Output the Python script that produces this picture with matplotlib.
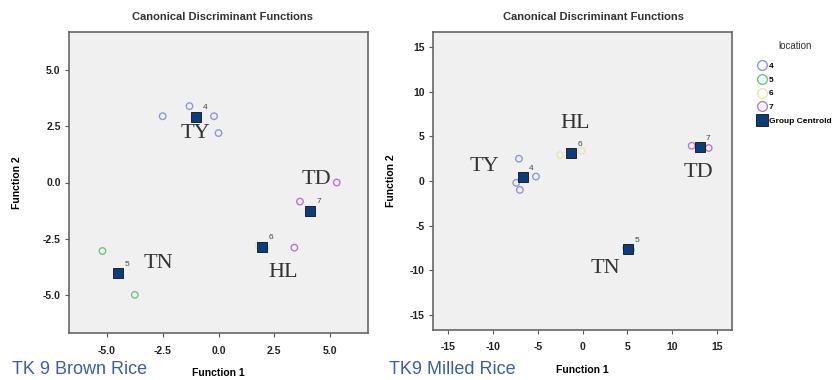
import matplotlib
matplotlib.use("Agg")
import matplotlib.pyplot as plt
from matplotlib.lines import Line2D

plt.rcParams['font.family'] = ['Liberation Sans', 'DejaVu Sans']

W, H = 838, 380

groups = ['4', '5', '6', '7']
colors = {'4': '#8e98d4', '5': '#66cc70', '6': '#e9e4b4', '7': '#b87ac6'}

# TK 9 brown rice: discriminant scores per location
brown_pts = {
    '4': ([-2.5, -1.3, -0.2, 0.0], [2.95, 3.4, 2.95, 2.2]),
    '5': ([-5.2, -3.75], [-3.05, -5.0]),
    '6': ([1.8, 2.1], [-2.8, -2.9]),
    '7': ([5.3, 3.65, 3.4], [0.0, -0.85, -2.9]),
}
brown_cent = {'4': (-1.0, 2.9), '5': (-4.5, -4.05), '6': (1.95, -2.85), '7': (4.1, -1.25)}
brown_names = {'TY': (-1.05, 2.2), 'TD': (4.4, 0.15), 'TN': (-2.7, -3.6), 'HL': (2.9, -4.0)}

# TK9 milled rice
milled_pts = {
    '4': ([-7.1, -5.2, -7.4, -7.0], [2.5, 0.5, -0.2, -1.0]),
    '5': ([5.4, 4.9], [-7.7, -7.5]),
    '6': ([-2.5, -0.1, -1.3], [2.9, 3.4, 3.1]),
    '7': ([12.2, 14.1], [3.95, 3.7]),
}
milled_cent = {'4': (-6.7, 0.45), '5': (5.1, -7.6), '6': (-1.3, 3.1), '7': (13.1, 3.8)}
milled_names = {'TY': (-10.9, 1.6), 'HL': (-0.8, 6.5), 'TD': (12.9, 1.0), 'TN': (2.5, -9.8)}


def px_axes(fig, x0, y0, x1, y1):
    return fig.add_axes([x0 / W, 1 - y1 / H, (x1 - x0) / W, (y1 - y0) / H])


def panel(ax, pts, cents, names, lim, ticks, ticklabels, dx, dy):
    ax.set_facecolor('#f0f0f0')
    for g in groups:
        xs, ys = pts[g]
        ax.scatter(xs, ys, s=22, facecolors='none', edgecolors=colors[g], linewidths=1.0, zorder=2)
    for g in groups:
        cx, cy = cents[g]
        ax.scatter([cx], [cy], s=60, marker='s', color='#0b3c7c', edgecolors='#111111',
                   linewidths=0.6, zorder=3)
        ax.text(cx + dx, cy + dy, g, fontsize=6, color='#444444', zorder=4)
    for name, (x, y) in names.items():
        ax.text(x, y, name, family='Liberation Serif', fontsize=16, color='#333333',
                ha='center', va='center', zorder=4)
    ax.set_xlim(-lim, lim)
    ax.set_ylim(-lim, lim)
    ax.set_xticks(ticks)
    ax.set_yticks(ticks)
    ax.set_xticklabels(ticklabels, fontsize=7.5, fontweight='bold', color='#222222')
    ax.set_yticklabels(ticklabels, fontsize=7.5, fontweight='bold', color='#222222')
    ax.tick_params(length=3, width=0.8, color='#555555', pad=3)
    ax.tick_params(axis='x', pad=6)
    for s in ax.spines.values():
        s.set_color('#666666')
        s.set_linewidth(1.2)


fig = plt.figure(figsize=(W / 100, H / 100), dpi=100)

ax1 = px_axes(fig, 69, 32, 368, 333)
panel(ax1, brown_pts, brown_cent, brown_names, 6.7,
      [-5, -2.5, 0, 2.5, 5], ['-5.0', '-2.5', '0.0', '2.5', '5.0'], 0.3, 0.35)

ax2 = px_axes(fig, 433, 32, 732, 330)
panel(ax2, milled_pts, milled_cent, milled_names, 16.7,
      [-15, -10, -5, 0, 5, 10, 15], ['-15', '-10', '-5', '0', '5', '10', '15'], 0.7, 0.8)

for cx in (223, 593):
    fig.text(cx / W, 1 - 17 / H, 'Canonical Discriminant Functions', ha='center', va='center',
             fontsize=8, fontweight='bold', color='#333333')
ax1.set_xlabel('Function 1', fontsize=7.5, fontweight='bold', labelpad=9)
ax2.set_xlabel('Function 1', fontsize=7.5, fontweight='bold', labelpad=9)
ax1.set_ylabel('Function 2', fontsize=7.5, fontweight='bold', labelpad=15)
ax2.set_ylabel('Function 2', fontsize=7.5, fontweight='bold', labelpad=10)

fig.text(12 / W, 1 - 369 / H, 'TK 9 Brown Rice', fontsize=13, color='#3a5db0', va='center')
fig.text(389 / W, 1 - 370 / H, 'TK9 Milled Rice', fontsize=13, color='#3a5db0', va='center')

# legend for the group markers
handles = [Line2D([], [], marker='o', linestyle='none', markersize=7, markerfacecolor='none',
                  markeredgecolor=colors[g], markeredgewidth=1.0, label=g) for g in groups]
handles.append(Line2D([], [], marker='s', linestyle='none', markersize=8.5, color='#0b3c7c',
                      markeredgecolor='#111111', markeredgewidth=0.6, label='Group Centroid'))
leg = fig.legend(handles=handles, title='location', loc='upper left',
                 bbox_to_anchor=(754 / W, 1 - 37 / H), frameon=False,
                 title_fontsize=7, handletextpad=0.3, labelspacing=0.7, borderpad=0,
                 handlelength=1.0, prop={'weight': 'bold', 'size': 6})
leg.get_title().set_color('#333333')
leg._legend_box.sep = 8

fig.savefig('out.png', dpi=100, facecolor='white')
